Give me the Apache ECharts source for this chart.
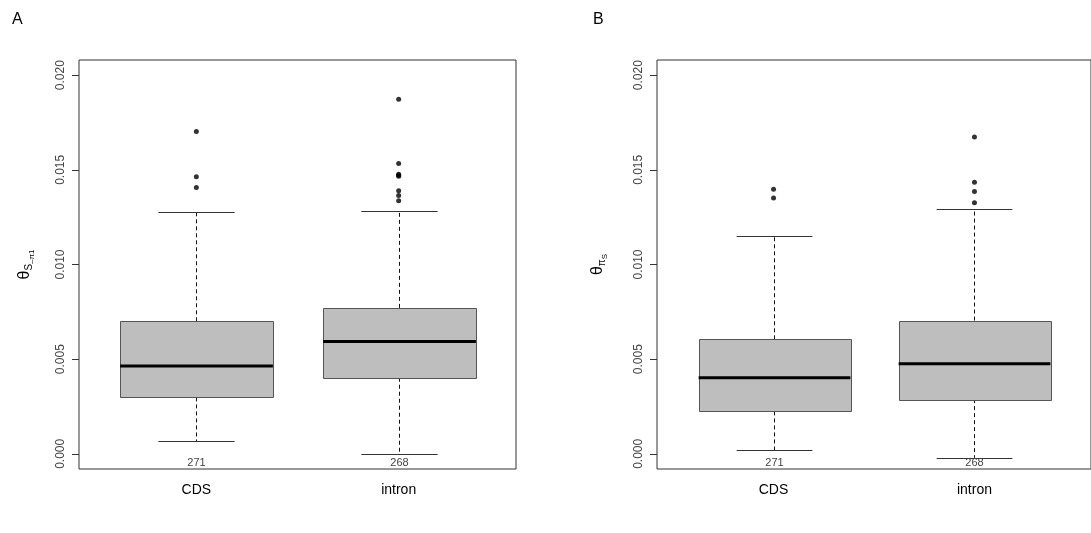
<!DOCTYPE html>
<html>
<head>
<meta charset="utf-8">
<script src="https://cdn.jsdelivr.net/npm/echarts@6/dist/echarts.min.js"></script>
<style>
  html, body { margin: 0; padding: 0; background: #fff; }
  #chart { width: 1091px; height: 533px; }
</style>
</head>
<body>
<div id="chart"></div>
<script>
// values
const categories = ['CDS', 'intron'];
const countsA = [271, 268];
const countsB = [271, 268];
// per category: [lower whisker, Q1, median, Q3, upper whisker]
const statsA = [
  [0.00067, 0.00298, 0.00464, 0.00700, 0.01279],
  [0.00000, 0.00402, 0.00593, 0.00771, 0.01284]
];
const outliersA = [
  [0.01702, 0.01464, 0.01406],
  [0.01873, 0.01534, 0.01476, 0.01471, 0.01466, 0.01390, 0.01365, 0.01337]
];
const statsB = [
  [0.00018, 0.00224, 0.00402, 0.00605, 0.01152],
  [-0.00021, 0.00289, 0.00476, 0.00704, 0.01291]
];
const outliersB = [
  [0.01397, 0.01351],
  [0.01674, 0.01434, 0.01385, 0.01326]
];
const yTicks = [0, 0.005, 0.010, 0.015, 0.020];

const FONT = '"Liberation Sans", Arial, sans-serif';
const BOX_W = 0.755;   // in x units
const STAPLE_W = 0.377;

function boxItem(params, api) {
  const x = api.value(0);
  const lw = api.coord([x, api.value(1)]);
  const q1 = api.coord([x, api.value(2)]);
  const md = api.coord([x, api.value(3)]);
  const q3 = api.coord([x, api.value(4)]);
  const uw = api.coord([x, api.value(5)]);
  const bottom = api.coord([x, api.value(7)]);
  const bw = api.size([BOX_W, 0])[0];
  const sw = api.size([STAPLE_W, 0])[0];
  const cx = Math.round(lw[0]) + 0.5;
  const dash = { stroke: '#111', lineWidth: 1, lineDash: [4, 3] };
  const staple = { stroke: '#333', lineWidth: 1 };
  return {
    type: 'group',
    children: [
      { type: 'line', shape: { x1: cx, y1: q3[1], x2: cx, y2: uw[1] }, style: dash },
      { type: 'line', shape: { x1: cx, y1: q1[1], x2: cx, y2: lw[1] }, style: dash },
      { type: 'line', shape: { x1: cx - sw / 2, y1: Math.round(uw[1]) + 0.5, x2: cx + sw / 2, y2: Math.round(uw[1]) + 0.5 }, style: staple },
      { type: 'line', shape: { x1: cx - sw / 2, y1: Math.round(lw[1]) + 0.5, x2: cx + sw / 2, y2: Math.round(lw[1]) + 0.5 }, style: staple },
      {
        type: 'rect',
        shape: { x: Math.round(cx - bw / 2) + 0.5, y: Math.round(q3[1]) + 0.5, width: Math.round(bw), height: Math.round(q1[1] - q3[1]) },
        style: { fill: '#bebebe', stroke: '#555', lineWidth: 1 }
      },
      { type: 'line', shape: { x1: cx - bw / 2, y1: md[1], x2: cx + bw / 2, y2: md[1] }, style: { stroke: '#000', lineWidth: 3 } },
      {
        type: 'text',
        style: {
          text: String(api.value(6)), x: cx, y: bottom[1] - 1,
          align: 'center', verticalAlign: 'bottom',
          font: '11px ' + FONT, fill: '#444'
        }
      }
    ]
  };
}

function boxData(stats, counts) {
  return stats.map((s, i) => [i + 1].concat(s, [counts[i], -0.0008]));
}
function pointData(outs) {
  const pts = [];
  outs.forEach((list, i) => list.forEach(v => pts.push([i + 1, v])));
  return pts;
}

function makeX(idx) {
  return {
    type: 'value', gridIndex: idx, min: 0.42, max: 2.58,
    axisLine: { show: false }, axisTick: { show: false }, splitLine: { show: false },
    axisLabel: {
      customValues: [1, 2], margin: 14,
      formatter: v => categories[Math.round(v) - 1] || '',
      fontFamily: FONT, fontSize: 14, color: '#000'
    }
  };
}
function makeY(idx, name, gap) {
  return {
    type: 'value', gridIndex: idx, min: -0.0008, max: 0.0208,
    name: name, nameLocation: 'middle', nameGap: gap,
    nameTextStyle: {
      fontFamily: FONT, color: '#000',
      rich: {
        t: { fontFamily: FONT, fontSize: 16, color: '#000' },
        s: { fontFamily: FONT, fontSize: 10, color: '#000', padding: [9, 0, 0, 0] },
        ss: { fontFamily: FONT, fontSize: 8, color: '#000', padding: [14, 0, 0, 0] }
      }
    },
    axisLine: { show: false },
    splitLine: { show: false },
    axisTick: { show: true, customValues: yTicks, length: 7, lineStyle: { color: '#333' } },
    axisLabel: {
      customValues: yTicks, rotate: 90, margin: 12,
      formatter: v => v.toFixed(3),
      fontFamily: FONT, fontSize: 12, color: '#444'
    }
  };
}

const chart = echarts.init(document.getElementById('chart'), null, { renderer: 'canvas' });
chart.setOption({
  backgroundColor: '#fff',
  animation: false,
  title: [
    { text: 'A', left: 7, top: 7, textStyle: { fontFamily: FONT, fontSize: 16, fontWeight: 'normal', color: '#000' } },
    { text: 'B', left: 588, top: 7, textStyle: { fontFamily: FONT, fontSize: 16, fontWeight: 'normal', color: '#000' } }
  ],
  grid: [
    { left: 79, top: 60, width: 437, height: 409, show: true, borderColor: '#333', borderWidth: 1, backgroundColor: 'transparent' },
    { left: 657, top: 60, width: 437, height: 409, show: true, borderColor: '#333', borderWidth: 1, backgroundColor: 'transparent' }
  ],
  xAxis: [makeX(0), makeX(1)],
  yAxis: [
    makeY(0, '{t|θ}{s|S}{ss|–π1}', 43),
    makeY(1, '{t|θ}{s|π}{ss|S}', 48)
  ],
  series: [
    { type: 'custom', xAxisIndex: 0, yAxisIndex: 0, renderItem: boxItem, data: boxData(statsA, countsA), clip: false },
    { type: 'scatter', xAxisIndex: 0, yAxisIndex: 0, data: pointData(outliersA), symbol: 'circle', symbolSize: 5, itemStyle: { color: '#000' } },
    { type: 'custom', xAxisIndex: 1, yAxisIndex: 1, renderItem: boxItem, data: boxData(statsB, countsB), clip: false },
    { type: 'scatter', xAxisIndex: 1, yAxisIndex: 1, data: pointData(outliersB), symbol: 'circle', symbolSize: 5, itemStyle: { color: '#000' } }
  ]
});
</script>
</body>
</html>
